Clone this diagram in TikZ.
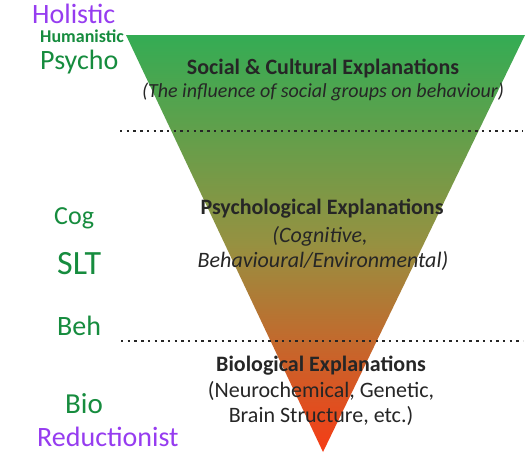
\documentclass[tikz,border=0pt]{standalone}
\usepackage{fontspec}
\setmainfont{Carlito}
\usetikzlibrary{shadings}
\definecolor{topgreen}{RGB}{52,172,84}
\definecolor{midolive}{RGB}{150,145,65}
\definecolor{botred}{RGB}{245,60,22}
\definecolor{hgreen}{RGB}{22,140,62}
\definecolor{hpurple}{RGB}{150,60,240}
\definecolor{txt}{RGB}{38,38,38}
\tikzset{
  main/.style={font=\fontsize{22}{25}\selectfont\bfseries, text=txt, inner sep=0pt},
  sub/.style={font=\fontsize{22}{25}\selectfont\itshape, text=txt, inner sep=0pt},
  subup/.style={font=\fontsize{22}{25}\selectfont, text=txt, inner sep=0pt},
  divider/.style={line width=2.4pt, draw=black!85, dash pattern=on 2.4pt off 4.3pt},
  hand/.style={inner sep=0pt, anchor=west},
  hg/.style={hand, text=hgreen},
  hp/.style={hand, text=hpurple},
}
\begin{document}
\begin{tikzpicture}[x=1pt,y=-1pt]
\useasboundingbox (0,0) rectangle (532,464);
\fill[white] (0,0) rectangle (532,464);
% triangle
\shade[top color=topgreen, bottom color=botred, middle color=midolive]
  (126,35) coordinate (tl) -- (525,35) coordinate (tr) -- (323,452) coordinate (ap) -- cycle;
% dividers
\coordinate (d1a) at (120,131); \coordinate (d1b) at (523,131);
\coordinate (d2a) at (121,341); \coordinate (d2b) at (523,341);
\draw[divider] (d1a) -- (d1b);
\draw[divider] (d2a) -- (d2b);
% texts
\node[main] (soc) at (323,68) {Social \& Cultural Explanations};
\node[sub, font=\fontsize{20}{23}\selectfont\itshape] (socs) at (323,92) {(The influence of social groups on behaviour)};
\node[main] (psy) at (322,209) {Psychological Explanations};
\node[sub] (psy1) at (320,236) {(Cognitive,};
\node[sub] (psy2) at (323,261) {Behavioural/Environmental)};
\node[main] (bio) at (321,366) {Biological Explanations};
\node[subup] (bio1) at (321,391) {(Neurochemical, Genetic,};
\node[subup] (bio2) at (321,416) {Brain Structure, etc.)};
% handwritten notes
\node[hp, font=\fontsize{28}{30}\selectfont] (hol) at (32,14) {Holistic};
\node[hg, font=\fontsize{18}{20}\selectfont\bfseries] (hum) at (40,36) {Humanistic};
\node[hg, font=\fontsize{28}{30}\selectfont] (psc) at (40,62) {Psycho};
\node[hg, font=\fontsize{26}{28}\selectfont] (cog) at (54,218) {Cog};
\node[hg, font=\fontsize{34}{36}\selectfont] (slt) at (57,264) {SLT};
\node[hg, font=\fontsize{28}{30}\selectfont] (beh) at (57,326) {Beh};
\node[hg, font=\fontsize{29}{31}\selectfont] (bi) at (65,404) {Bio};
\node[hp, font=\fontsize{28}{30}\selectfont] (red) at (37,437) {Reductionist};
\end{tikzpicture}
\end{document}
